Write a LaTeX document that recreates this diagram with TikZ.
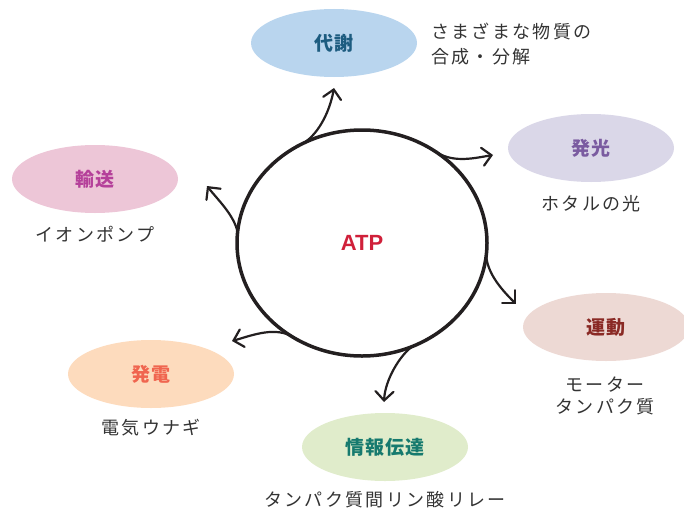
\documentclass[tikz,border=0pt]{standalone}
\usepackage{fontspec}
\setmainfont{Liberation Sans}
\newfontfamily\jp[LetterSpace=13]{Noto Sans CJK JP}
\newfontfamily\jpb[LetterSpace=6]{Noto Sans CJK JP}
\usetikzlibrary{shapes.geometric,arrows.meta}
\definecolor{ink}{HTML}{231F20}
\definecolor{txtgray}{HTML}{333333}
\definecolor{atpred}{HTML}{D0203A}
\definecolor{fillA}{HTML}{B9D5EE}\definecolor{textA}{HTML}{1D5C80}
\definecolor{fillB}{HTML}{EDC6D7}\definecolor{textB}{HTML}{B5409A}
\definecolor{fillC}{HTML}{DAD7E8}\definecolor{textC}{HTML}{7A5BA0}
\definecolor{fillD}{HTML}{EDD9D4}\definecolor{textD}{HTML}{8A2A25}
\definecolor{fillE}{HTML}{FDDBBD}\definecolor{textE}{HTML}{F0654F}
\definecolor{fillF}{HTML}{E0ECCB}\definecolor{textF}{HTML}{167A6E}
\begin{document}
\begin{tikzpicture}[x=1pt,y=-1pt,
  bubble/.style={ellipse, minimum width=166pt, minimum height=68pt, inner sep=0pt,
    font=\jpb\bfseries\fontsize{19}{21}\selectfont},
  caption/.style={font=\jp\fontsize{18}{22}\selectfont, text=txtgray, align=center, inner sep=0pt},
  flow/.style={line width=2.2pt, draw=ink, line cap=round,
    -{Straight Barb[length=9pt,width=18pt,line cap=round]}},
]
\useasboundingbox (0,0) rectangle (684,511);

% central ATP circle
\node[ellipse, draw=ink, line width=3.5pt, minimum width=250pt, minimum height=226pt,
  inner sep=0pt, outer sep=0pt, font=\bfseries\fontsize{22}{24}\selectfont, text=atpred]
  (atp) at (362,243) {ATP};

% bubbles
\node[bubble, fill=fillA, text=textA] (taisha) at (334,43) {代謝};
\node[bubble, fill=fillB, text=textB] (yuso) at (95,179) {輸送};
\node[bubble, fill=fillC, text=textC] (hakko) at (591,148) {発光};
\node[bubble, fill=fillD, text=textD] (undo) at (606,327) {運動};
\node[bubble, fill=fillE, text=textE] (hatsuden) at (151,374) {発電};
\node[bubble, fill=fillF, text=textF] (joho) at (385,447) {情報伝達};

% captions
\node[caption, anchor=west, align=left, font=\jp\fontsize{18}{25}\selectfont] (capA) at (431,44.5) {さまざまな物質の\\合成・分解};
\node[caption] (capB) at (95,234) {イオンポンプ};
\node[caption] (capC) at (591,204) {ホタルの光};
\node[caption] (capD) at (605,396) {モーター\\タンパク質};
\node[caption] (capE) at (151,428) {電気ウナギ};
\node[caption] (capF) at (385,500) {タンパク質間リン酸リレー};

% arrow tips
\coordinate (tA) at (334,88);
\coordinate (tC) at (493,155);
\coordinate (tD) at (516,304);
\coordinate (tF) at (384,402);
\coordinate (tE) at (232,341);
\coordinate (tB) at (207,186);

\draw[flow] (atp.120) .. controls (320,132) and (330,110) .. (tA);
\draw[flow] (atp.50) .. controls (455,163) and (475,158) .. (tC);
\draw[flow] (atp.-6) .. controls (488,275) and (503,291) .. (tD);
\draw[flow] (atp.-64) .. controls (400,355) and (385,380) .. (tF);
\draw[flow] (atp.232) .. controls (272,327) and (250,336) .. (tE);
\draw[flow] (atp.175) .. controls (234,215) and (218,200) .. (tB);
\end{tikzpicture}
\end{document}
